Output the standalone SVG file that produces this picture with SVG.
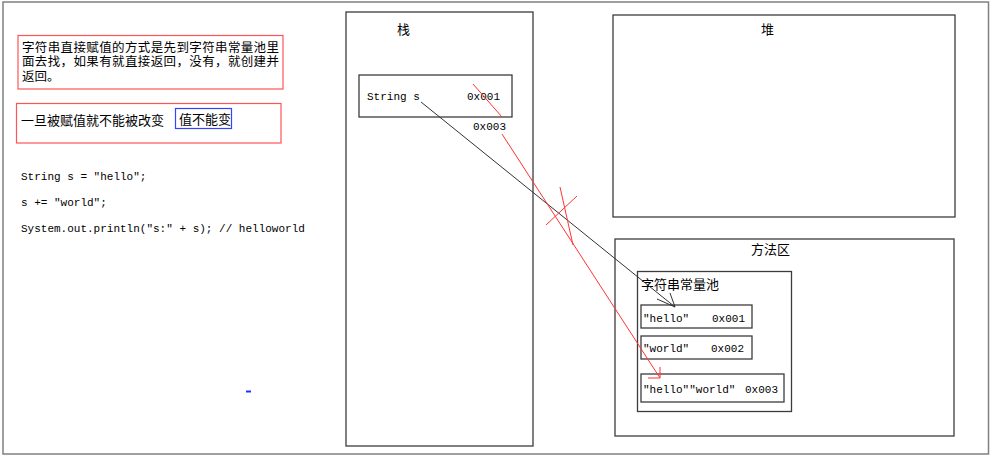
<svg xmlns="http://www.w3.org/2000/svg" width="992" height="459" viewBox="0 0 992 459">
<style>
.box{fill:#fff;stroke:#3c3c3c;stroke-width:1.3}
.cn{font-family:"Noto Sans CJK SC","Noto Sans",sans-serif;font-size:13px;fill:#000}
.note{font-family:"Liberation Sans","Noto Sans CJK SC",sans-serif;font-size:12.5px;fill:#000}
.code{font-family:"Liberation Mono","DejaVu Sans Mono",monospace;font-size:11px;fill:#000}
.red{fill:none;stroke:#ff3333;stroke-width:1}
</style>
<rect x="0" y="0" width="992" height="459" fill="#fff"/>
<rect x="3" y="2" width="985.5" height="452" fill="none" stroke="#808080" stroke-width="1.5"/>

<g id="note1">
<rect x="18" y="35.5" width="265" height="53.5" fill="none" stroke="#ff5555" stroke-width="1.2"/>
<text class="note" x="22" y="51.5" textLength="257" lengthAdjust="spacing">字符串直接赋值的方式是先到字符串常量池里</text>
<text class="note" x="22" y="66" textLength="257" lengthAdjust="spacing">面去找，如果有就直接返回，没有，就创建并</text>
<text class="note" x="22" y="80.5">返回。</text>
</g>
<g id="note2">
<rect x="16.5" y="103.5" width="264.5" height="39.5" fill="none" stroke="#ff5555" stroke-width="1.2"/>
<text class="cn" x="21" y="125">一旦被赋值就不能被改变</text>
<rect x="175.5" y="108.5" width="56" height="20" fill="none" stroke="#3344ff" stroke-width="1.2"/>
<text class="cn" x="179" y="124">值不能变</text>
</g>
<g id="code">
<text class="code" x="21" y="180">String s = "hello";</text>
<text class="code" x="21" y="206">s += "world";</text>
<text class="code" x="21" y="232">System.out.println("s:" + s); // helloworld</text>
</g>
<rect x="246" y="390.5" width="5" height="2" fill="#2233ff"/>

<g id="stack">
<rect class="box" x="346" y="12" width="187" height="434"/>
<text class="cn" x="397" y="34">栈</text>
</g>
<g id="stack-var">
<rect class="box" x="359" y="75" width="153" height="42"/>
<text class="code" x="367" y="100">String s</text>
<text class="code" x="467" y="100">0x001</text>
</g>
<text class="code" x="473" y="130">0x003</text>

<g id="heap">
<rect class="box" x="613" y="15" width="342" height="202"/>
<text class="cn" x="761" y="34">堆</text>
</g>
<g id="method-area">
<rect class="box" x="615" y="239" width="339" height="197"/>
<text class="cn" x="751" y="254">方法区</text>
</g>
<g id="string-pool">
<rect class="box" x="637.5" y="271.5" width="154" height="140"/>
<text class="cn" x="641" y="289">字符串常量池</text>
</g>
<g id="hello">
<rect class="box" x="641" y="305" width="111" height="23"/>
<text class="code" x="643" y="322">"hello"</text>
<text class="code" x="712" y="322">0x001</text>
</g>
<g id="world">
<rect class="box" x="641" y="336" width="111" height="23"/>
<text class="code" x="643" y="352">"world"</text>
<text class="code" x="711" y="352">0x002</text>
</g>
<g id="helloworld">
<rect class="box" x="641" y="374" width="143" height="28"/>
<text class="code" x="643" y="393">"hello""world"</text>
<text class="code" x="745" y="393">0x003</text>
</g>

<g id="connectors">
<line x1="421" y1="102" x2="675" y2="307" stroke="#333" stroke-width="1"/>
<polyline points="657,299 675,307 670,293" fill="none" stroke="#333" stroke-width="1"/>
<line class="red" x1="473" y1="84" x2="502" y2="117"/>
<line class="red" x1="502" y1="134" x2="660" y2="378"/>
<polyline class="red" points="648,378 660,378 660,367"/>
<line class="red" x1="546" y1="225" x2="577" y2="196"/>
<line class="red" x1="560" y1="187" x2="573" y2="245"/>
</g>
</svg>
